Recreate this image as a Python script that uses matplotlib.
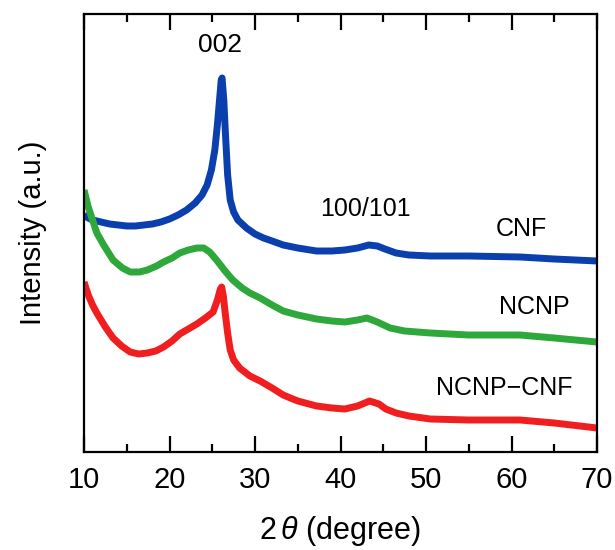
import numpy as np
import matplotlib
matplotlib.use("Agg")
import matplotlib.pyplot as plt

# values (2theta in degrees, intensity in a.u.)
cnf_x = [10, 10.5, 11, 12, 13, 14, 15, 16, 17, 18, 19, 20, 21, 22, 23, 23.8, 24.4,
         24.9, 25.3, 25.6, 25.85, 26.05, 26.15, 26.35, 26.55, 26.8, 27.1, 27.5, 28,
         29, 30, 31, 32, 33.3, 35, 37.2, 39, 40.5, 42, 43.3, 44.3, 45.2, 46.5, 48,
         50.5, 55, 61, 65, 70]
cnf_y = [237, 234, 232, 230, 228, 227, 226, 226, 227, 228, 230, 233, 237, 242, 249, 257, 267,
         282, 302, 327, 352, 372, 374, 352, 317, 277, 252, 240, 232,
         224, 218, 214, 211, 207, 204, 201, 201, 202, 204, 207, 206, 203, 199, 197,
         196, 196, 195, 193, 191]

ncnp_x = [10, 10.5, 11, 11.5, 12.3, 13.4, 14.5, 15.4, 16.5, 17.4, 18.5, 19.3, 20.3, 21.2,
          22.2, 23.2, 24, 24.7, 25.5, 26.5, 27.4, 28.5, 29.4, 30.6, 32, 33.3, 35, 37.2,
          39, 40.5, 42, 43.1, 44.3, 45.8, 47.5, 50.5, 55, 61, 65, 70]
ncnp_y = [262, 245, 232, 219, 207, 192, 184, 180, 180, 182, 186, 190, 194, 199,
          202, 204, 204, 200, 192, 181, 172, 164, 159, 154, 147, 141, 137, 133,
          131, 130, 132, 134, 130, 124, 121, 119, 117, 117, 114, 110]

mix_x = [10, 10.5, 11, 11.5, 12.5, 13.4, 14.4, 15.4, 16.4, 17.4, 18.4, 19.3, 20.3, 21.2,
         22.2, 23.2, 24.2, 25.1, 25.6, 25.95, 26.1, 26.3, 26.5, 26.8, 27.1, 27.5, 28.2,
         29.4, 30.6, 32, 33.3, 35, 37.2, 39, 40.5, 42, 43.4, 44.5, 45.3, 46.5, 48, 50.5,
         55, 61, 65, 70]
mix_y = [170, 157, 147, 139, 125, 114, 106, 100, 98, 99, 101, 105, 111, 118,
         123, 128, 134, 140, 152, 163, 165, 156, 140, 119, 102, 92, 84,
         76, 71, 64, 57, 51, 46, 44, 43, 46, 51, 48, 43, 39, 36, 33,
         32, 32, 29, 24]

labels = ["CNF", "NCNP", "NCNP\u2212CNF"]
colors = ["#0b3fae", "#2ea83a", "#f01e1e"]

plt.rcParams['font.family'] = ['Liberation Sans', 'DejaVu Sans']
plt.rcParams['mathtext.fontset'] = 'custom'
plt.rcParams['mathtext.it'] = 'Liberation Sans:italic'
plt.rcParams['mathtext.rm'] = 'Liberation Sans'


def main():
    fig = plt.figure(figsize=(6.15, 5.5), dpi=100)
    ax = fig.add_axes([84 / 615, 1 - 452 / 550, 513 / 615, 438 / 550])

    for xs, ys, c in zip([cnf_x, ncnp_x, mix_x], [cnf_y, ncnp_y, mix_y], colors):
        ax.plot(xs, ys, color=c, lw=5, solid_joinstyle='round', solid_capstyle='butt')

    ax.set_xlim(10, 70)
    ax.set_ylim(0, 438)
    ax.set_yticks([])
    ax.set_xticks(range(10, 71, 10))
    ax.set_xticks(range(15, 70, 10), minor=True)
    ax.tick_params(axis='x', which='both', direction='in', top=True, width=1.6,
                   labelsize=21, pad=10)
    ax.tick_params(axis='x', which='major', length=11.5)
    ax.tick_params(axis='x', which='minor', length=6)
    for s in ax.spines.values():
        s.set_linewidth(1.6)

    # peak and sample labels
    ax.text(25.9, 407, "002", fontsize=19, ha='center', va='center')
    ax.text(42.9, 243, "100/101", fontsize=18, ha='center', va='center')
    ax.text(61.2, 223, labels[0], fontsize=18, ha='center', va='center')
    ax.text(62.7, 145, labels[1], fontsize=18, ha='center', va='center')
    ax.text(59.2, 64, labels[2], fontsize=18, ha='center', va='center')

    fig.text(340 / 615, 1 - 531 / 550, r"2$\,\mathit{\theta}$ (degree)", fontsize=22,
             ha='center', va='center')
    fig.text(33 / 615, 1 - 233 / 550, "Intensity (a.u.)", fontsize=21, rotation=90,
             ha='center', va='center')

    fig.savefig("out.png", dpi=100)


if __name__ == '__main__':
    main()
